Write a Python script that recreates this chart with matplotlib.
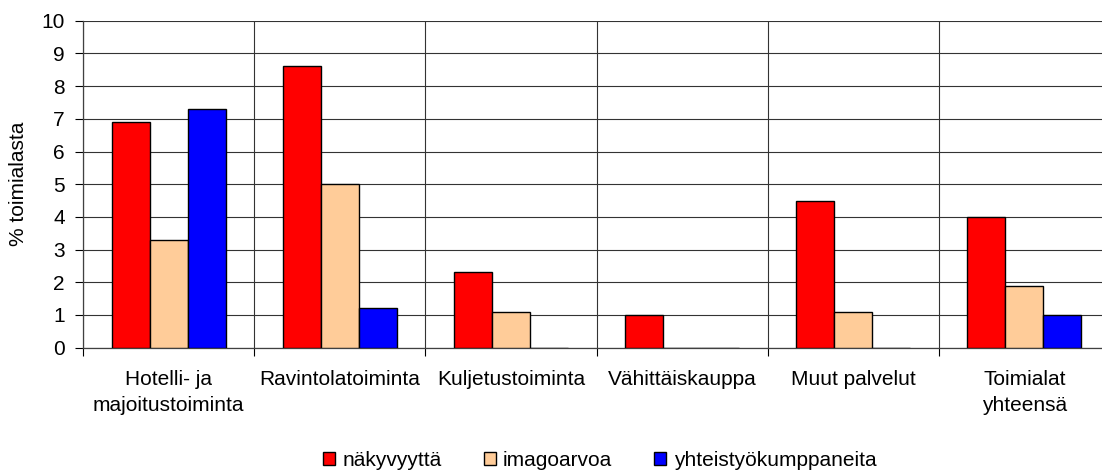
import matplotlib.pyplot as plt
from matplotlib.patches import Patch
import numpy as np

plt.rcParams['font.family'] = ['Liberation Sans', 'DejaVu Sans']

# Share of businesses per sector (%)
categories = ["Hotelli- ja\nmajoitustoiminta", "Ravintolatoiminta", "Kuljetustoiminta",
              "Vähittäiskauppa", "Muut palvelut", "Toimialat\nyhteensä"]
nakyvyytta = [6.9, 8.6, 2.3, 1.0, 4.5, 4.0]
imagoarvoa = [3.3, 5.0, 1.1, 0.0, 1.1, 1.9]
yhteistyokumppaneita = [7.3, 1.2, 0.0, 0.0, 0.0, 1.0]

series = [
    ("näkyvyyttä", nakyvyytta, "#ff0000"),
    ("imagoarvoa", imagoarvoa, "#ffcc99"),
    ("yhteistyökumppaneita", yhteistyokumppaneita, "#0000ff"),
]

FS = 15
W, H = 1102, 470
fig = plt.figure(figsize=(W / 100, H / 100), dpi=100)
# plot area runs slightly past the right edge of the canvas
ax = fig.add_axes([83 / W, (H - 347.7) / H, (1110 - 83) / W, (347.7 - 20.7) / H])

x = np.arange(len(categories))
bw = 0.222
for i, (name, vals, col) in enumerate(series):
    ax.bar(x + (i - 1) * bw, vals, bw, color=col, edgecolor='black',
           linewidth=1.0, zorder=3)

ax.set_xlim(-0.5, len(categories) - 0.5)
ax.set_ylim(0, 10)
ax.set_yticks(range(0, 11))

# category labels on major ticks, separators on minor ticks
ax.set_xticks(x)
ax.set_xticklabels(categories, fontsize=FS, linespacing=1.45)
ax.set_xticks(np.arange(len(categories) + 1) - 0.5, minor=True)
ax.tick_params(axis='x', which='major', length=0, pad=16)
ax.tick_params(axis='x', which='minor', length=6, width=0.8, color='black')
ax.tick_params(axis='y', length=6, width=0.8, pad=7, labelsize=FS)

ax.grid(axis='y', which='major', color='#333333', linewidth=0.8, zorder=0)
ax.grid(axis='x', which='minor', color='#333333', linewidth=0.8, zorder=0)
ax.set_axisbelow(True)

for s in ('top', 'right'):
    ax.spines[s].set_visible(False)
for s in ('left', 'bottom'):
    ax.spines[s].set_color('#404040')
    ax.spines[s].set_linewidth(0.9)

fig.text(19 / W, 0.5 * ((H - 347.7) + (H - 20.7)) / H, "% toimialasta",
         rotation=90, ha='center', va='center', fontsize=FS)

handles = [Patch(facecolor=c, edgecolor='black', linewidth=1.0, label=n) for n, _, c in series]
fig.legend(handles=handles, loc='center left', bbox_to_anchor=(323 / W, 9.5 / H),
           ncol=3, frameon=False, fontsize=FS, borderpad=0, borderaxespad=0,
           handlelength=0.58, handleheight=0.58, handletextpad=0.36,
           columnspacing=2.0)

plt.savefig("out.png", dpi=100)
plt.close()
